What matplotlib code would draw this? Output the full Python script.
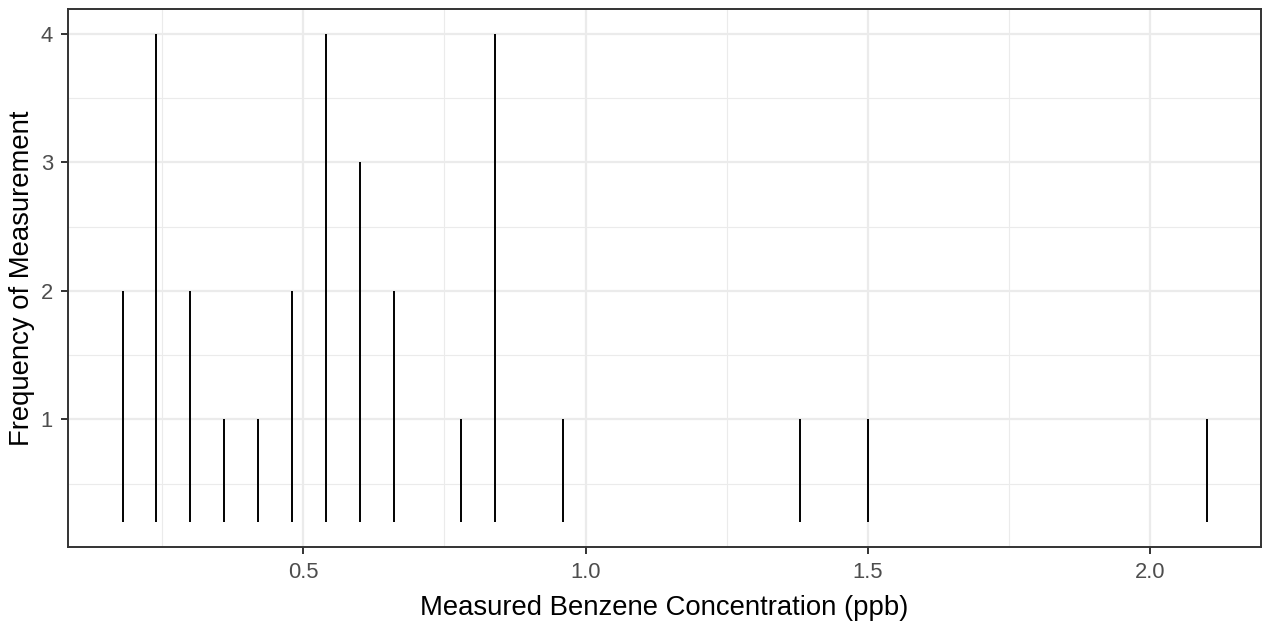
import matplotlib
matplotlib.use("Agg")
import matplotlib.pyplot as plt
from matplotlib.ticker import FixedLocator

plt.rcParams['font.family'] = ['Liberation Sans', 'DejaVu Sans']

# benzene concentrations (ppb) and how often each was measured
conc = [0.18, 0.24, 0.30, 0.36, 0.42, 0.48, 0.54, 0.60, 0.66, 0.78, 0.84, 0.96, 1.38, 1.50, 2.10]
freq = [2, 4, 2, 1, 1, 2, 4, 3, 2, 1, 4, 1, 1, 1, 1]
base = 0.2  # segments start here

W, H = 1263, 622
fig = plt.figure(figsize=(W / 100, H / 100), dpi=100)
left, right, top, bottom = 68.3, 1261.0, 9.3, 546.7
ax = fig.add_axes([left / W, 1 - bottom / H, (right - left) / W, (bottom - top) / H])

ax.vlines(conc, base, freq, color='black', linewidth=1.4, zorder=3)

# ggplot-like 5% expansion
xr = max(conc) - min(conc)
ax.set_xlim(min(conc) - 0.05 * xr, max(conc) + 0.05 * xr)
yr = max(freq) - base
ax.set_ylim(base - 0.05 * yr, max(freq) + 0.05 * yr)

ax.xaxis.set_major_locator(FixedLocator([0.5, 1.0, 1.5, 2.0]))
ax.xaxis.set_minor_locator(FixedLocator([0.25, 0.75, 1.25, 1.75]))
ax.yaxis.set_major_locator(FixedLocator([1, 2, 3, 4]))
ax.yaxis.set_minor_locator(FixedLocator([0.5, 1.5, 2.5, 3.5]))
ax.set_xticklabels(['0.5', '1.0', '1.5', '2.0'])
ax.set_yticklabels(['1', '2', '3', '4'])

ax.grid(which='major', color='#EBEBEB', linewidth=1.6, zorder=0)
ax.grid(which='minor', color='#EBEBEB', linewidth=0.8, zorder=0)
ax.set_axisbelow(True)

for s in ax.spines.values():
    s.set_color('#333333')
    s.set_linewidth(1.4)

ax.tick_params(which='major', length=5, width=1.4, color='#333333',
               labelcolor='#4D4D4D', labelsize=15.8, pad=6)
ax.tick_params(which='minor', length=0)

ax.set_xlabel('Measured Benzene Concentration (ppb)', fontsize=19.8, color='black', labelpad=9)
ax.set_ylabel('Frequency of Measurement', fontsize=19.8, color='black', labelpad=4)

fig.savefig('out.png', dpi=100, facecolor='white')
